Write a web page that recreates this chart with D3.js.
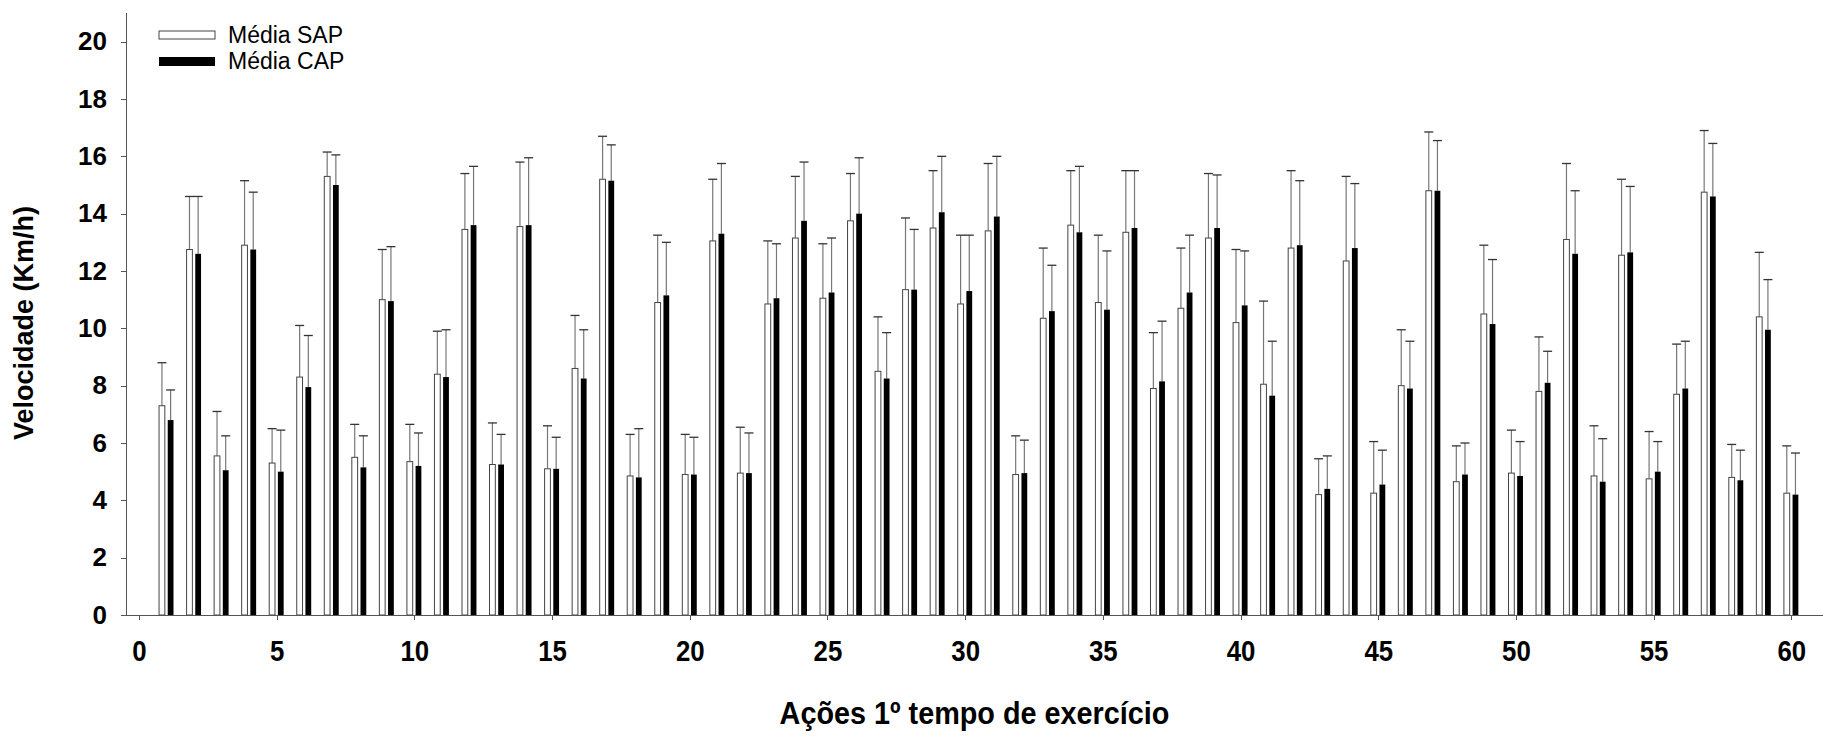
<!doctype html>
<html>
<head>
<title>Velocidade SAP x CAP</title>
<script src="https://d3js.org/d3.v7.min.js"></script>
</head>
<style>
  body { margin: 0; background: #fff; }
  svg { display: block; }
  .axis path, .axis line { fill: none; stroke: #555; shape-rendering: crispEdges; }
  .ylab text { font: bold 26px "Liberation Sans", Arial, sans-serif; fill: #000; }
  .xlab text { font: bold 30px "Liberation Sans", Arial, sans-serif; fill: #000; }
</style>
<body>
<script>

// actions (x) and the two series
var actions = [1,2,3,4,5,6,7,8,9,10,11,12,13,14,15,16,17,18,19,20,
               21,22,23,24,25,26,27,28,29,30,31,32,33,34,35,36,37,38,39,40,
               41,42,43,44,45,46,47,48,49,50,51,52,53,54,55,56,57,58,59,60];

var sapMean = [7.3,12.75,5.55,12.9,5.3,8.3,15.3,5.5,11.0,5.35,
               8.4,13.45,5.25,13.55,5.1,8.6,15.2,4.85,10.9,4.9,
               13.05,4.95,10.85,13.15,11.05,13.75,8.5,11.35,13.5,10.85,
               13.4,4.9,10.35,13.6,10.9,13.35,7.9,10.7,13.15,10.2,
               8.05,12.8,4.2,12.35,4.25,8.0,14.8,4.65,10.5,4.95,
               7.8,13.1,4.85,12.55,4.75,7.7,14.75,4.8,10.4,4.25];
var sapSD   = [1.5,1.85,1.55,2.25,1.2,1.8,0.85,1.15,1.75,1.3,
               1.5,1.95,1.45,2.25,1.5,1.85,1.5,1.45,2.35,1.4,
               2.15,1.6,2.2,2.15,1.9,1.65,1.9,2.5,2.0,2.4,
               2.35,1.35,2.45,1.9,2.35,2.15,1.95,2.1,2.25,2.55,
               2.9,2.7,1.25,2.95,1.8,1.95,2.05,1.25,2.4,1.5,
               1.9,2.65,1.75,2.65,1.65,1.75,2.15,1.15,2.25,1.65];

var capMean = [6.8,12.6,5.05,12.75,5.0,7.95,15.0,5.15,10.95,5.2,
               8.3,13.6,5.25,13.6,5.1,8.25,15.15,4.8,11.15,4.9,
               13.3,4.95,11.05,13.75,11.25,14.0,8.25,11.35,14.05,11.3,
               13.9,4.95,10.6,13.35,10.65,13.5,8.15,11.25,13.5,10.8,
               7.65,12.9,4.4,12.8,4.55,7.9,14.8,4.9,10.15,4.85,
               8.1,12.6,4.65,12.65,5.0,7.9,14.6,4.7,9.95,4.2];
var capSD   = [1.05,2.0,1.2,2.0,1.45,1.8,1.05,1.1,1.9,1.15,
               1.65,2.05,1.05,2.35,1.1,1.7,1.25,1.7,1.85,1.3,
               2.45,1.4,1.9,2.05,1.9,1.95,1.6,2.1,1.95,1.95,
               2.1,1.15,1.6,2.3,2.05,2.0,2.1,2.0,1.85,1.9,
               1.9,2.25,1.15,2.25,1.2,1.65,1.75,1.1,2.25,1.2,
               1.1,2.2,1.5,2.3,1.05,1.65,1.85,1.05,1.75,1.45];

var xTicks = [0,5,10,15,20,25,30,35,40,45,50,55,60];
var yTicks = [0,2,4,6,8,10,12,14,16,18,20];
var seriesNames = ["Média SAP", "Média CAP"];

var W = 1823, H = 736;
var pLeft = 126, pRight = 1823, pTop = 13, pBottom = 615;

var svg = d3.select("body").append("svg").attr("width", W).attr("height", H);

var x = d3.scaleLinear().domain([-0.47, 61.15]).range([pLeft, pRight]);
var y = d3.scaleLinear().domain([0, 21]).range([pBottom, pTop]);

var barW = 0.21;      // bar width in x units
var offSap = -0.27, offCap = 0.045;

var data = actions.map(function(a, i){
  return {a: a, sm: sapMean[i], ss: sapSD[i], cm: capMean[i], cs: capSD[i]};
});

// error bars (upper only)
function errBars(off, mKey, sKey){
  var e = svg.append("g").selectAll("g").data(data).enter().append("g");
  e.append("line")
    .attr("x1", function(d){ return x(d.a + off + barW/2); })
    .attr("x2", function(d){ return x(d.a + off + barW/2); })
    .attr("y1", function(d){ return y(d[mKey]); })
    .attr("y2", function(d){ return y(d[mKey] + d[sKey]); })
    .attr("stroke", "#777").attr("stroke-width", 1.2);
  e.append("line")
    .attr("x1", function(d){ return x(d.a + off + barW/2) - 4.5; })
    .attr("x2", function(d){ return x(d.a + off + barW/2) + 4.5; })
    .attr("y1", function(d){ return y(d[mKey] + d[sKey]); })
    .attr("y2", function(d){ return y(d[mKey] + d[sKey]); })
    .attr("stroke", "#333").attr("stroke-width", 1.3);
}
errBars(offSap, "sm", "ss");
errBars(offCap, "cm", "cs");

svg.append("g").selectAll("rect").data(data).enter().append("rect")
  .attr("x", function(d){ return x(d.a + offSap); })
  .attr("width", function(d){ return x(d.a + offSap + barW) - x(d.a + offSap); })
  .attr("y", function(d){ return y(d.sm); })
  .attr("height", function(d){ return y(0) - y(d.sm); })
  .attr("fill", "#fff").attr("stroke", "#444").attr("stroke-width", 1);

svg.append("g").selectAll("rect").data(data).enter().append("rect")
  .attr("x", function(d){ return x(d.a + offCap); })
  .attr("width", function(d){ return x(d.a + offCap + barW) - x(d.a + offCap); })
  .attr("y", function(d){ return y(d.cm); })
  .attr("height", function(d){ return y(0) - y(d.cm); })
  .attr("fill", "#000");

// axes
var yAxis = d3.axisLeft(y).tickValues(yTicks).tickSize(5).tickPadding(14).tickFormat(d3.format("d"));
var gy = svg.append("g").attr("class", "axis ylab").attr("transform", "translate(" + pLeft + ",0)").call(yAxis);
gy.select(".domain").attr("d", "M0," + pTop + "V" + pBottom);

var xAxis = d3.axisBottom(x).tickValues(xTicks).tickSize(5).tickPadding(20).tickFormat(d3.format("d"));
var gx = svg.append("g").attr("class", "axis xlab").attr("transform", "translate(0," + pBottom + ")").call(xAxis);
gx.select(".domain").attr("d", "M" + pLeft + ",0H" + pRight);
// narrow look of the x labels
gx.selectAll(".tick text").attr("transform", "scale(0.86,1)");

// axis titles
svg.append("text")
  .attr("transform", "translate(33,323) rotate(-90)")
  .attr("text-anchor", "middle")
  .style("font", "bold 27px 'Liberation Sans', Arial, sans-serif")
  .text("Velocidade (Km/h)");

svg.append("text")
  .attr("transform", "translate(" + (pLeft + pRight) / 2 + ",724) scale(0.9,1)")
  .attr("text-anchor", "middle")
  .style("font", "bold 32px 'Liberation Sans', Arial, sans-serif")
  .text("Ações 1º tempo de exercício");

// legend
var leg = svg.append("g");
leg.append("rect").attr("x", 159).attr("y", 31).attr("width", 56).attr("height", 8)
  .attr("fill", "#fff").attr("stroke", "#444").attr("stroke-width", 1);
leg.append("rect").attr("x", 159).attr("y", 57).attr("width", 56).attr("height", 9)
  .attr("fill", "#000");
leg.selectAll("text").data(seriesNames).enter().append("text")
  .attr("x", 228).attr("y", function(d, i){ return 43 + i * 26; })
  .style("font", "23px 'Liberation Sans', Arial, sans-serif")
  .text(function(d){ return d; });

</script>
</body>
</html>
